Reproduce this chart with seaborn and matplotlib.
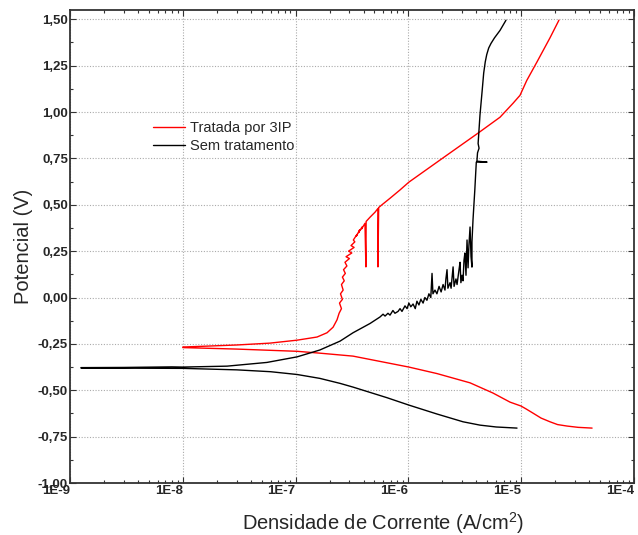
import pandas as pd
import matplotlib
matplotlib.use('Agg')
import matplotlib.pyplot as plt
import matplotlib.ticker as mticker
import seaborn as sns

# curva de polarizacao
# Tratada por 3IP: ramo catodico (corrente decrescente) e ramo anodico
trat_cat_i = [4.25e-5, 3.2e-5, 2.55e-5, 2.1e-5, 1.80e-5, 1.5e-5, 1.27e-5, 1.1e-5,
              9.96e-6, 7.96e-6, 5.62e-6, 3.52e-6, 1.79e-6, 1.01e-6, 3.23e-7,
              1.64e-7, 1.03e-7, 3.0e-8, 1.0e-8]
trat_cat_E = [-0.704, -0.700, -0.693, -0.685, -0.670, -0.650, -0.623, -0.600,
              -0.585, -0.564, -0.515, -0.460, -0.410, -0.375, -0.316,
              -0.300, -0.290, -0.278, -0.270]
trat_an_i = [1.0e-8, 3.0e-8, 5.9e-8, 1.03e-7, 1.55e-7, 1.9e-7, 2.15e-7, 2.33e-7,
             2.43e-7, 2.55e-7, 2.45e-7, 2.60e-7, 2.50e-7, 2.64e-7, 2.55e-7, 2.70e-7,
             2.60e-7, 2.76e-7, 2.66e-7, 2.85e-7, 2.74e-7, 3.00e-7, 2.80e-7, 3.15e-7,
             2.95e-7, 3.30e-7, 3.10e-7, 3.35e-7, 3.25e-7, 3.50e-7, 3.45e-7, 3.70e-7,
             3.62e-7, 3.88e-7, 3.85e-7, 4.12e-7, 4.20e-7, 4.22e-7, 4.57e-7, 5.06e-7,
             5.37e-7, 5.37e-7, 5.45e-7, 5.83e-7, 6.87e-7, 8.43e-7, 1.01e-6, 2.20e-6,
             4.14e-6, 6.49e-6, 8.46e-6, 9.76e-6, 1.12e-5, 1.38e-5, 1.80e-5, 2.16e-5]
trat_an_E = [-0.267, -0.256, -0.246, -0.230, -0.213, -0.190, -0.160, -0.120,
             -0.085, -0.060, -0.030, -0.010, 0.020, 0.040, 0.070, 0.090,
             0.110, 0.130, 0.150, 0.170, 0.190, 0.210, 0.220, 0.240,
             0.250, 0.270, 0.280, 0.300, 0.310, 0.340, 0.330, 0.365,
             0.350, 0.380, 0.370, 0.400, 0.165, 0.410, 0.433, 0.460,
             0.480, 0.165, 0.485, 0.500, 0.535, 0.580, 0.622, 0.768,
             0.886, 0.972, 1.047, 1.090, 1.170, 1.270, 1.400, 1.495]

# Sem tratamento
sem_cat_i = [9.18e-6, 6.0e-6, 4.31e-6, 3.05e-6, 1.79e-6, 1.01e-6, 6.45e-7, 3.23e-7,
             2.48e-7, 1.64e-7, 1.03e-7, 6.0e-8, 3.0e-8, 1.0e-8, 3.0e-9, 1.25e-9]
sem_cat_E = [-0.704, -0.698, -0.688, -0.670, -0.628, -0.580, -0.540, -0.483,
             -0.463, -0.436, -0.415, -0.400, -0.390, -0.382, -0.381, -0.380]
sem_an_i = [1.25e-9, 3.0e-9, 8.0e-9, 1.0e-8, 2.47e-8, 5.57e-8, 1.03e-7, 1.64e-7,
            2.48e-7, 3.23e-7, 4.57e-7, 5.60e-7, 5.96e-7, 6.21e-7, 6.59e-7, 6.87e-7,
            7.29e-7, 7.60e-7, 8.09e-7, 8.43e-7, 8.77e-7, 9.33e-7, 9.73e-7, 1.01e-6,
            1.05e-6, 1.10e-6, 1.15e-6, 1.19e-6, 1.24e-6, 1.29e-6, 1.35e-6, 1.40e-6,
            1.46e-6, 1.52e-6, 1.58e-6, 1.62e-6, 1.65e-6, 1.72e-6, 1.79e-6, 1.87e-6,
            1.95e-6, 2.03e-6, 2.11e-6, 2.15e-6, 2.20e-6, 2.24e-6, 2.34e-6, 2.39e-6,
            2.49e-6, 2.54e-6, 2.64e-6, 2.70e-6, 2.81e-6, 2.87e-6, 2.92e-6, 2.99e-6,
            3.05e-6, 3.11e-6, 3.17e-6, 3.24e-6, 3.31e-6, 3.38e-6, 3.44e-6, 3.52e-6,
            3.59e-6, 3.66e-6, 3.66e-6, 3.74e-6, 3.80e-6, 3.88e-6, 3.95e-6, 4.0e-6,
            4.98e-6, 4.05e-6, 4.1e-6, 4.23e-6, 4.15e-6, 4.31e-6, 4.50e-6, 4.65e-6,
            4.80e-6, 4.95e-6, 5.15e-6, 5.40e-6, 5.80e-6, 6.49e-6, 7.33e-6]
sem_an_E = [-0.378, -0.377, -0.374, -0.375, -0.370, -0.350, -0.320, -0.283,
            -0.235, -0.190, -0.140, -0.105, -0.090, -0.100, -0.085, -0.095,
            -0.070, -0.085, -0.075, -0.060, -0.075, -0.045, -0.060, -0.030,
            -0.050, -0.035, -0.060, -0.020, -0.040, -0.010, -0.030, 0.000,
            -0.015, 0.020, 0.000, 0.130, 0.020, 0.040, 0.020, 0.060,
            0.030, 0.070, 0.040, 0.100, 0.150, 0.050, 0.080, 0.050,
            0.165, 0.060, 0.100, 0.070, 0.150, 0.190, 0.080, 0.120,
            0.090, 0.200, 0.240, 0.120, 0.310, 0.160, 0.280, 0.380,
            0.220, 0.164, 0.300, 0.420, 0.490, 0.580, 0.670, 0.730,
            0.730, 0.735, 0.780, 0.805, 0.830, 0.983, 1.110, 1.210,
            1.270, 1.310, 1.345, 1.370, 1.400, 1.440, 1.495]

amostras = ['Tratada por 3IP', 'Sem tratamento']
cores = ['#ff0000', '#000000']

x_ticks = [1e-9, 1e-8, 1e-7, 1e-6, 1e-5, 1e-4]
x_labels = ['1E-9', '1E-8', '1E-7', '1E-6', '1E-5', '1E-4']
y_ticks = [-1.00, -0.75, -0.50, -0.25, 0.00, 0.25, 0.50, 0.75, 1.00, 1.25, 1.50]

# montar tabela
df_trat = pd.DataFrame({'i': trat_cat_i + trat_an_i, 'E': trat_cat_E + trat_an_E})
df_trat['amostra'] = amostras[0]
df_sem = pd.DataFrame({'i': sem_cat_i + sem_an_i, 'E': sem_cat_E + sem_an_E})
df_sem['amostra'] = amostras[1]
df = pd.concat([df_trat, df_sem], ignore_index=True)

sns.set_style('ticks')
plt.rcParams['font.family'] = ['Liberation Sans', 'DejaVu Sans']
plt.rcParams['mathtext.fontset'] = 'custom'
plt.rcParams['mathtext.rm'] = 'Liberation Sans'

fig = plt.figure(figsize=(6.38, 5.35), dpi=100)
ax = fig.add_axes([70 / 638, 1 - 483 / 535, 564 / 638, 473 / 535])

sns.lineplot(data=df, x='i', y='E', hue='amostra', hue_order=amostras,
             palette=dict(zip(amostras, cores)), sort=False, estimator=None,
             linewidth=1.0, ax=ax)

ax.set_xscale('log')
ax.set_xlim(1e-9, 1e-4)
ax.set_ylim(-1.0, 1.55)

ax.set_xticks(x_ticks)
ax.set_xticklabels(x_labels, fontweight='bold', fontsize=9.5, ha='right')
ax.xaxis.set_minor_locator(mticker.LogLocator(base=10, subs=range(2, 10)))
ax.xaxis.set_minor_formatter(mticker.NullFormatter())
ax.set_yticks(y_ticks)
ax.set_yticklabels([f'{v:.2f}'.replace('.', ',') for v in y_ticks],
                   fontweight='bold', fontsize=9.5)
ax.yaxis.set_minor_locator(mticker.MultipleLocator(0.125))

ax.tick_params(which='both', direction='in', top=True, right=True,
               color='#333333', width=0.8)
ax.tick_params(which='major', length=4, pad=1.5)
ax.tick_params(which='minor', length=2.5)

ax.grid(True, which='major', linestyle=(0, (1, 1.5)), color='#aaaaaa', linewidth=0.8)
ax.set_axisbelow(True)
for s in ax.spines.values():
    s.set_color('#333333')
    s.set_linewidth(1.3)

ax.set_xlabel('Densidade de Corrente (A/cm$^\\mathregular{2}$)', fontsize=14.5)
ax.xaxis.set_label_coords(0.555, -0.058)
ax.set_ylabel('Potencial (V)', fontsize=14.5)
ax.yaxis.set_label_coords(-0.066, 0.5)

ax.legend(loc='center left', bbox_to_anchor=(0.147, 0.7315), frameon=False,
          fontsize=10.5, handlelength=2.2, handletextpad=0.35, labelspacing=0.25,
          borderpad=0, borderaxespad=0, title=None)

fig.savefig('out.png', dpi=100)
